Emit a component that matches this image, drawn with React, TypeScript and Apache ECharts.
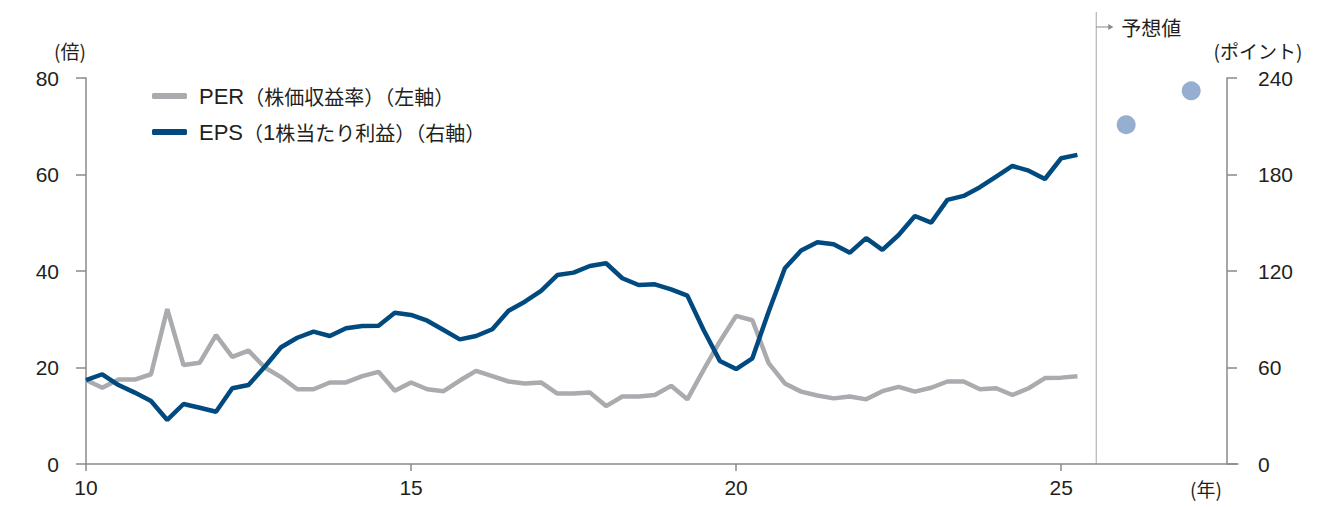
import { useEffect, useRef } from "react";
import * as echarts from "echarts";

const years = [
  10, 10.25, 10.5, 10.75, 11, 11.25, 11.5, 11.75, 12, 12.25, 12.5, 12.75,
  13, 13.25, 13.5, 13.75, 14, 14.25, 14.5, 14.75, 15, 15.25, 15.5, 15.75,
  16, 16.25, 16.5, 16.75, 17, 17.25, 17.5, 17.75, 18, 18.25, 18.5, 18.75,
  19, 19.25, 19.5, 19.75, 20, 20.25, 20.5, 20.75, 21, 21.25, 21.5, 21.75,
  22, 22.25, 22.5, 22.75, 23, 23.25, 23.5, 23.75, 24, 24.25, 24.5, 24.75,
  25, 25.25,
];

const per = [
  17.4, 15.8, 17.5, 17.5, 18.6, 32.1, 20.5, 21.0, 26.7, 22.2,
  23.5, 20.0, 18.0, 15.5, 15.5, 16.9, 16.9, 18.2, 19.1, 15.2,
  16.9, 15.5, 15.1, 17.3, 19.3, 18.2, 17.1, 16.7, 16.9, 14.6,
  14.6, 14.8, 12.0, 14.0, 14.0, 14.3, 16.2, 13.4, 19.5, 25.4,
  30.7, 29.8, 20.9, 16.7, 15.0, 14.2, 13.6, 14.0, 13.4, 15.1,
  16.0, 15.0, 15.8, 17.1, 17.1, 15.5, 15.7, 14.3, 15.7, 17.8,
  17.9, 18.2,
];

const eps = [
  52.2, 55.8, 49.1, 44.4, 39.2, 27.4, 37.3, 35.0, 32.5, 47.1,
  49.1, 60.5, 72.6, 78.5, 82.3, 79.6, 84.4, 85.8, 85.9, 94.1,
  92.7, 89.1, 83.3, 77.5, 79.6, 83.8, 95.3, 100.9, 107.6, 117.5,
  119.0, 123.1, 124.8, 115.5, 111.3, 111.7, 108.6, 104.7, 83.3, 64.1,
  59.0, 65.7, 94.7, 121.7, 132.7, 137.9, 136.6, 131.4, 140.4, 133.1,
  142.4, 154.2, 150.1, 164.2, 166.7, 172.1, 178.7, 185.3, 182.4, 177.2,
  190.1, 192.2,
];

const forecastYears = [26, 27];
const forecastEps = [211, 232];

const xTickLabels = [10, 15, 20, 25];
const forecastStart = 25.54;

const perName = "PER（株価収益率）（左軸）";
const epsName = "EPS（1株当たり利益）（右軸）";

const FONT = "'Liberation Sans', 'Noto Sans CJK JP', sans-serif";
const JP = "'Noto Sans CJK JP', 'Liberation Sans', sans-serif";
const TEXT = "#231f20";
const AXIS = "#8a8a8a";

// split a legend name into latin runs and Japanese runs for rich text
function legendLabel(name: string) {
  const idx = name.indexOf("（");
  const head = name.slice(0, idx);
  const tail = name.slice(idx);
  const m = tail.match(/^（(\d+)(.*)$/);
  if (m) {
    return `{a|${head}}{c|（}{a|${m[1]}}{c|${m[2]}}`;
  }
  return `{a|${head}}{c|${tail}}`;
}

export default function App() {
  const ref = useRef<HTMLDivElement>(null);

  useEffect(() => {
    document.body.style.margin = "0";
    const chart = echarts.init(ref.current!, null, { renderer: "svg" });
    chart.setOption({
      animation: false,
      backgroundColor: "#ffffff",
      grid: { left: 86, right: 85, top: 78, bottom: 43 },
      legend: {
        data: [perName, epsName],
        orient: "vertical",
        left: 147,
        top: 80,
        icon: "roundRect",
        itemWidth: 35,
        itemHeight: 6,
        itemGap: 14,
        formatter: (name: string) => legendLabel(name),
        textStyle: {
          color: TEXT,
          padding: [0, 0, 0, 7],
          rich: {
            a: { fontFamily: FONT, fontSize: 22, color: TEXT, lineHeight: 24 },
            c: { fontFamily: JP, fontSize: 20, color: TEXT, lineHeight: 24 },
          },
        },
      },
      xAxis: {
        type: "value",
        min: 10,
        max: 27.72,
        splitLine: { show: false },
        axisLine: { show: true, lineStyle: { color: AXIS, width: 1.5 } },
        axisTick: {
          show: true,
          length: 7,
          customValues: xTickLabels,
          lineStyle: { color: AXIS, width: 1.5 },
        },
        axisLabel: {
          customValues: xTickLabels,
          margin: 13,
          fontFamily: FONT,
          fontSize: 21,
          color: TEXT,
        },
      },
      yAxis: [
        {
          type: "value",
          min: 0,
          max: 80,
          interval: 20,
          splitLine: { show: false },
          axisLine: { show: true, lineStyle: { color: AXIS, width: 1.5 } },
          axisTick: { show: true, length: 10, lineStyle: { color: AXIS, width: 1.5 } },
          axisLabel: { margin: 27, fontFamily: FONT, fontSize: 21, color: TEXT },
        },
        {
          type: "value",
          position: "right",
          offset: -11,
          min: 0,
          max: 240,
          interval: 60,
          splitLine: { show: false },
          axisLine: { show: true, lineStyle: { color: AXIS, width: 1.5 } },
          axisTick: { show: true, length: 10, lineStyle: { color: AXIS, width: 1.5 } },
          axisLabel: { margin: 31, fontFamily: FONT, fontSize: 21, color: TEXT },
        },
      ],
      series: [
        {
          name: perName,
          type: "line",
          yAxisIndex: 0,
          data: years.map((x, i) => [x, per[i]]),
          showSymbol: false,
          symbol: "none",
          color: "#aaabae",
          lineStyle: { width: 4.5, color: "#aaabae" },
        },
        {
          name: epsName,
          type: "line",
          yAxisIndex: 1,
          data: years.map((x, i) => [x, eps[i]]),
          showSymbol: false,
          symbol: "none",
          color: "#004a80",
          lineStyle: { width: 4.5, color: "#004a80" },
        },
        {
          name: "予想値",
          type: "scatter",
          yAxisIndex: 1,
          data: forecastYears.map((x, i) => [x, forecastEps[i]]),
          symbolSize: 19,
          itemStyle: { color: "#7c9bc5" },
        },
      ],
    });

    const vx = chart.convertToPixel({ xAxisIndex: 0 }, forecastStart) as number;
    const y0 = chart.convertToPixel({ yAxisIndex: 0 }, 0) as number;

    chart.setOption({
      graphic: [
        {
          type: "line",
          shape: { x1: vx, y1: 12, x2: vx, y2: y0 },
          style: { stroke: "#b5b5b5", lineWidth: 1.2 },
        },
        {
          type: "line",
          shape: { x1: vx, y1: 27, x2: vx + 16, y2: 27 },
          style: { stroke: "#8a8a8a", lineWidth: 1 },
        },
        {
          type: "polygon",
          shape: { points: [[vx + 12, 24], [vx + 17, 27], [vx + 12, 30]] },
          style: { fill: "#8a8a8a" },
        },
        {
          type: "text",
          x: vx + 25,
          y: 27,
          style: {
            text: "予想値",
            fontFamily: JP,
            fontSize: 20,
            fill: TEXT,
            verticalAlign: "middle",
            align: "left",
          },
        },
        {
          type: "text",
          x: 70,
          y: 50,
          style: {
            text: "(倍)",
            fontFamily: JP,
            fontSize: 19,
            fill: TEXT,
            verticalAlign: "middle",
            align: "center",
          },
        },
        {
          type: "text",
          x: 1258,
          y: 50,
          style: {
            text: "(ポイント)",
            fontFamily: JP,
            fontSize: 19,
            fill: TEXT,
            verticalAlign: "middle",
            align: "center",
          },
        },
        {
          type: "text",
          x: 1206,
          y: 488,
          style: {
            text: "(年)",
            fontFamily: JP,
            fontSize: 19,
            fill: TEXT,
            verticalAlign: "middle",
            align: "center",
          },
        },
      ],
    });

    return () => chart.dispose();
  }, []);

  return <div ref={ref} style={{ width: 1323, height: 507 }} />;
}
